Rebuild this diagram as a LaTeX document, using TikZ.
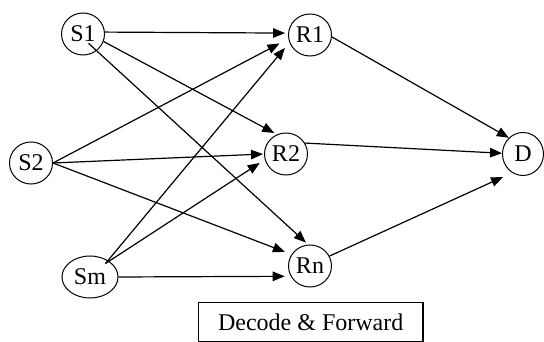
\documentclass[tikz,border=0pt]{standalone}
\usepackage{fontspec}
\setmainfont{Liberation Serif}
\usetikzlibrary{shapes.geometric,arrows.meta,calc}
\begin{document}
\begin{tikzpicture}[x=1pt,y=-1pt,
  nd/.style={draw, ellipse, line width=1pt, minimum width=43pt, minimum height=42pt, inner sep=0pt, font=\fontsize{24}{28}\selectfont},
  ar/.style={line width=1.2pt, -{Triangle[length=12pt,width=9.5pt]}},
  lbl/.style={draw, line width=1.1pt, minimum width=224.5pt, minimum height=39.5pt, inner sep=0pt, font=\fontsize{24}{28}\selectfont}]
\useasboundingbox (0,0) rectangle (544,342);
% nodes
\node[nd] (S1) at (83,34) {S1};
\node[nd] (S2) at (31,163) {S2};
\node[nd, minimum width=56pt] (Sm) at (90,277) {Sm};
\node[nd] (R1) at (310,35) {R1};
\node[nd] (R2) at (286,154) {R2};
\node[nd] (Rn) at (310,266) {Rn};
\node[nd, minimum width=41pt, minimum height=43pt] (D) at (523,154) {D};
\node[lbl] (DF) at (310.7,321.8) {Decode \& Forward};
% free start points inside source circles
\coordinate (s1x) at (88.5,43.3);
\coordinate (smx) at (105.5,263.5);
% connectors
\draw[ar, shorten >=3pt] (S1.5) -- (R1.175);
\draw[ar, shorten >=3pt] (S1.-20) -- (R2.115);
\draw[ar, shorten >=3pt] (s1x) -- (Rn.95);
\draw[ar, shorten >=10pt] (S2.east) -- (R1.190);
\draw[ar, shorten >=1pt] (S2.east) -- (R2.180);
\draw[ar, shorten >=7pt] (S2.east) -- (Rn.148);
\draw[ar, shorten >=7pt] (smx) -- (R1.200);
\draw[ar, shorten >=6pt] (smx) -- (R2.195);
\draw[ar, shorten >=6pt] (Sm.east) -- (Rn.208);
\draw[ar] (R1.-5) -- (D.131);
\draw[ar] (R2.30) -- (D.178);
\draw[ar, shorten >=10pt] (Rn.27) -- (D.240);
\end{tikzpicture}
\end{document}
